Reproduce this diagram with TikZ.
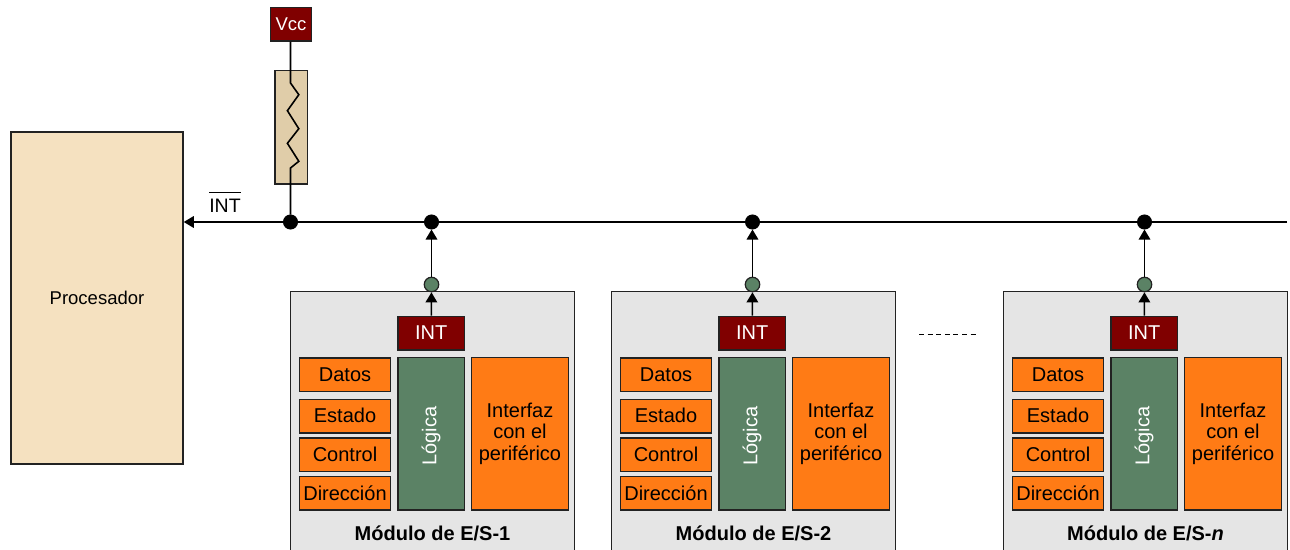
\documentclass[tikz,border=0pt]{standalone}
\usepackage{fontspec}
\setmainfont{Liberation Sans}
\usetikzlibrary{arrows.meta}
\definecolor{vino}{HTML}{800000}
\definecolor{naranja}{HTML}{FF7B15}
\definecolor{verde}{HTML}{5B8265}
\definecolor{crema}{HTML}{F5E1C0}
\definecolor{tostado}{HTML}{E0CDA9}
\definecolor{gris}{HTML}{E5E5E5}
\definecolor{borde}{HTML}{222222}
\tikzset{
    caja/.style={draw=borde,line width=1.5pt,inner sep=0pt,align=center,font=\fontsize{20}{21.7}\selectfont},
    reg/.style={caja,fill=naranja,minimum width=91pt,minimum height=33.5pt},
    rojo/.style={caja,fill=vino,text=white},
    punto/.style={circle,draw=black,fill=black,line width=1pt,inner sep=0pt,minimum size=14pt},
    pin/.style={circle,draw=borde,fill=verde,line width=1.2pt,inner sep=0pt,minimum size=14.5pt},
    linea/.style={line width=1.6pt,black},
    flecha/.style={linea,-{Triangle[length=10pt,width=11.5pt]}},
}
\begin{document}
\begin{tikzpicture}[x=1pt,y=-1pt]
    \useasboundingbox (0,0) rectangle (1290,549);
    \node[caja,fill=crema,minimum width=172pt,minimum height=332pt,font=\fontsize{18.5}{20}\selectfont] (proc) at (97,298) {\raisebox{1pt}{Procesador}};
    \node[rojo,minimum width=41pt,minimum height=33.5pt,font=\fontsize{18.5}{20}\selectfont] (vcc) at (291,24.2) {Vcc};
    \node[caja,fill=tostado,minimum width=32.5pt,minimum height=113.5pt] (res) at (291.2,127.2) {};
    \node[punto] (dot0) at (290.5,222) {};
    \coordinate (busend) at (1287,222);
    \coordinate (ztop) at (290.5,83);
    \coordinate (zbot) at (290.5,168);
    \draw[linea,line join=miter] (vcc.south -| ztop) -- (ztop) -- ++(8.3,11.7) -- ++(-11.4,16) -- ++(11.4,18) -- ++(-11.4,14.6) -- ++(11.4,18) -- (zbot) -- (dot0);
    \draw[flecha] (busend) -- (proc.east |- dot0);
    \node[font=\fontsize{19.5}{20}\selectfont,inner sep=0pt,anchor=base] (intneg) at (225,212) {$\overline{\mbox{\rule{0pt}{18.5pt}INT}}$};
    \foreach \m/\dx/\lab in {1/0/1,2/321/2,3/713/\textit{n}}
    {
        \begin{scope}[shift={(\dx,0)}]
            \node[caja,fill=gris,minimum width=284pt,minimum height=270pt] (mod\m) at (432.5,426.5) {};
            \node[rojo,minimum width=66.5pt,minimum height=33.5pt] (int\m) at (431.2,333) {\raisebox{.5pt}{INT}};
            \node[pin] (pin\m) at (431.5,284.5) {};
            \node[punto] (dot\m) at (431.5,222) {};
            \node[reg] (datos\m) at (345,374.7) {\raisebox{-.5pt}{Datos}};
            \node[reg] (estado\m) at (345,416) {\raisebox{1pt}{Estado}};
            \node[reg] (control\m) at (345,454.6) {Control};
            \node[reg] (dir\m) at (345,493) {\raisebox{.5pt}{Dirección}};
            \node[caja,fill=verde,minimum width=66.5pt,minimum height=152.5pt] (logica\m) at (431.2,433.7) {};
            \node[text=white,rotate=90,inner sep=0pt,font=\fontsize{20}{21.7}\selectfont] (logtxt\m) at (431,436) {Lógica};
            \node[caja,fill=naranja,minimum width=97pt,minimum height=152.5pt] (perif\m) at (520,433.7) {Interfaz\\con el\\periférico};
            \node[inner sep=0pt,font=\fontsize{20}{21}\selectfont\bfseries] (tit\m) at (432.5,533) {Módulo de E/S-\lab};
            \draw[flecha] (int\m) -- (pin\m);
            \draw[flecha] (pin\m) -- (dot\m);
        \end{scope}
    }
    \coordinate (pa) at (919,334.5);
    \coordinate (pb) at (977,334.5);
    \draw[line width=1.3pt,dash pattern=on 5pt off 3.6pt] (pa) -- (pb);
\end{tikzpicture}
\end{document}
